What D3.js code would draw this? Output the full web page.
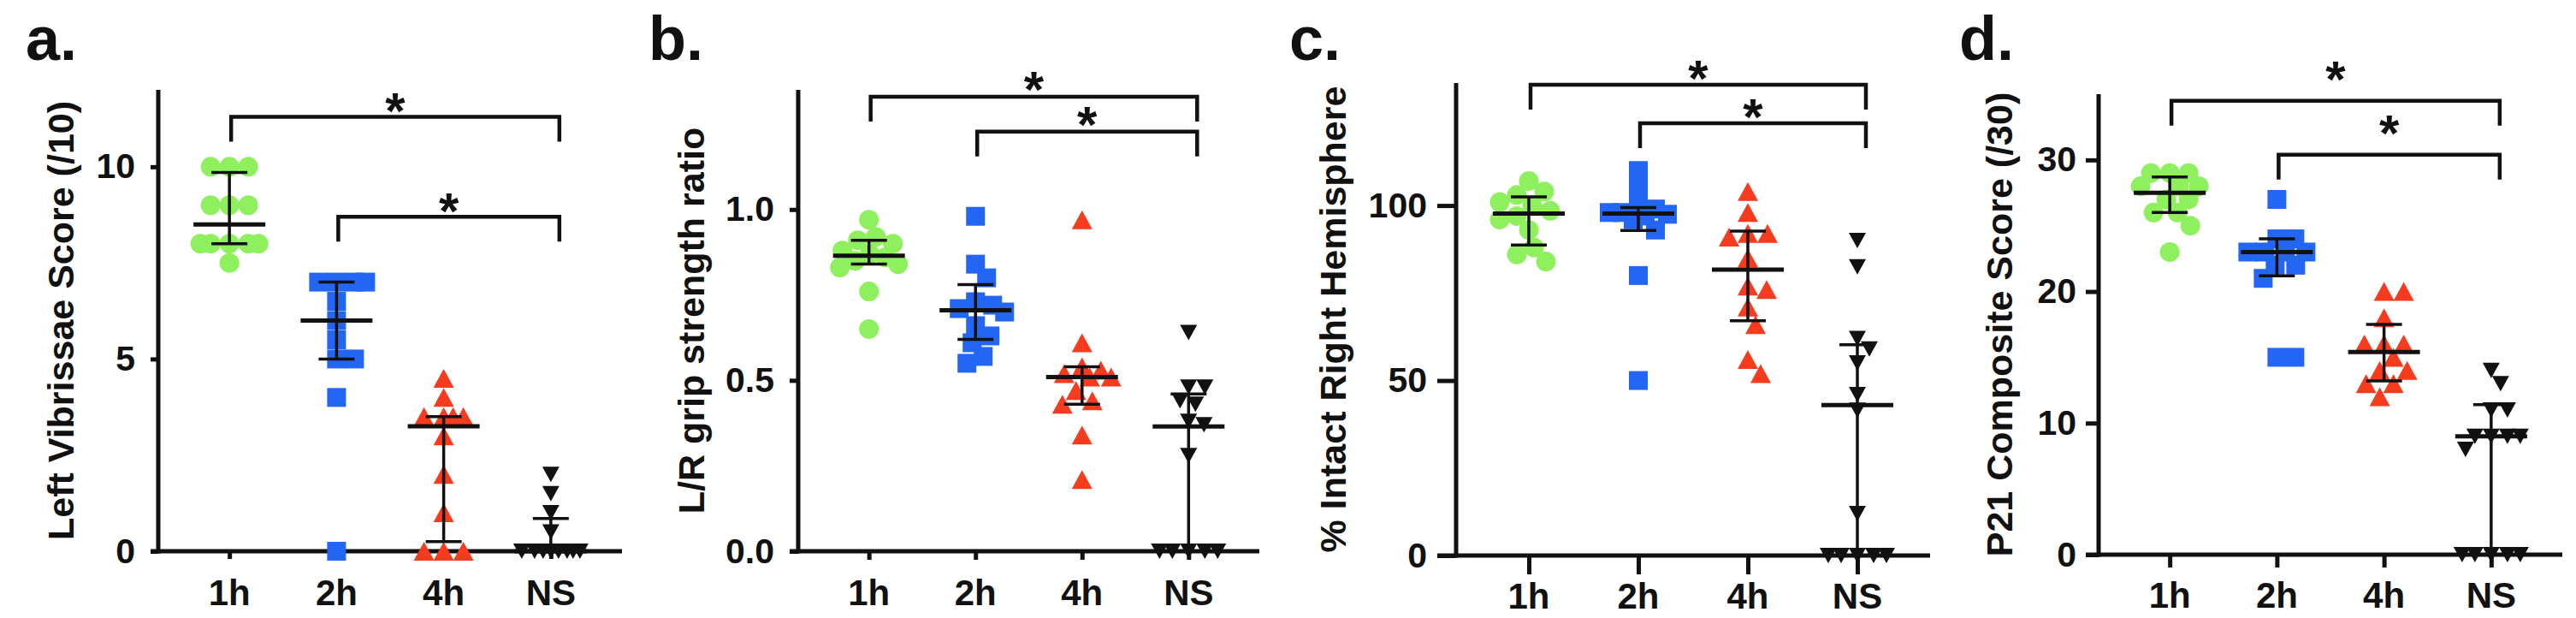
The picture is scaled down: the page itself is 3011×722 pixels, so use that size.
<!DOCTYPE html>
<html><head><meta charset="utf-8">
<script src="https://cdn.jsdelivr.net/npm/d3@7"></script>
<style>
html,body{margin:0;padding:0;background:#fff;}
svg{display:block;}
text{font-family:"Liberation Sans",Arial,Helvetica,sans-serif;font-weight:bold;fill:#111;}
</style>
</head><body>
<svg id="chart" width="3011" height="722"></svg>
<script>
// ---------- DATA ----------
const categories = ["1h", "2h", "4h", "NS"];

// Panel a: Left Vibrissae Score (/10)
const aValues1h = [10, 10, 10, 9, 9, 9, 8, 8, 8, 8, 8, 7.5];
const aValues2h = [7, 7, 7, 7, 6.5, 6, 5.5, 5, 5, 4, 0];
const aValues4h = [4.5, 4, 3.5, 3.5, 3.5, 3.5, 3, 2, 1, 0, 0, 0];
const aValuesNS = [2, 1.5, 1, 0.5, 0, 0, 0, 0, 0, 0, 0, 0];
const aMedian = [8.5, 6, 3.25, 0];
const aQ1 = [8, 5, 0.25, 0];
const aQ3 = [9.85, 7, 3.5, 0.85];
const aTicks = [0, 5, 10];
const aBrackets = [{from: "1h", to: "NS", y: 11.3}, {from: "2h", to: "NS", y: 8.7}];

// Panel b: L/R grip strength ratio
const bValues1h = [0.97, 0.92, 0.91, 0.90, 0.88, 0.87, 0.86, 0.85, 0.84, 0.83, 0.76, 0.65];
const bValues2h = [0.98, 0.84, 0.80, 0.73, 0.72, 0.71, 0.70, 0.66, 0.63, 0.61, 0.57, 0.55];
const bValues4h = [0.97, 0.61, 0.54, 0.53, 0.52, 0.51, 0.51, 0.47, 0.44, 0.43, 0.34, 0.21];
const bValuesNS = [0.64, 0.48, 0.48, 0.44, 0.43, 0.38, 0.37, 0.28, 0, 0, 0, 0, 0];
const bMedian = [0.865, 0.705, 0.51, 0.365];
const bQ1 = [0.84, 0.62, 0.43, 0];
const bQ3 = [0.91, 0.78, 0.54, 0.46];
const bTicks = [0, 0.5, 1.0];
const bBrackets = [{from: "1h", to: "NS", y: 1.33}, {from: "2h", to: "NS", y: 1.228}];

// Panel c: % Intact Right Hemisphere
const cValues1h = [107, 104, 103, 101, 100, 98.5, 97, 96, 93, 88, 86, 84];
const cValues2h = [110, 105, 99.8, 99, 98, 98, 97.5, 97, 96, 93, 80, 50];
const cValues4h = [104, 98, 92, 92, 91, 85, 77, 76, 71, 66, 56, 52];
const cValuesNS = [90, 82.5, 62, 59, 55, 46, 41.5, 12, 0, 0, 0, 0, 0];
const cMedian = [97.7, 97.7, 81.7, 43];
const cQ1 = [88.7, 92.9, 67.1, 0];
const cQ3 = [102.5, 99.4, 92.7, 60.2];
const cTicks = [0, 50, 100];
const cBrackets = [{from: "1h", to: "NS", y: 134.5}, {from: "2h", to: "NS", y: 123.5}];

// Panel d: P21 Composite Score (/30)
const dValues1h = [29, 29, 29, 28, 28, 28, 27, 27, 26, 26, 25, 23];
const dValues2h = [27, 24, 24, 23, 23, 23, 23, 22, 22, 21, 15, 15];
const dValues4h = [20, 20, 18, 16, 16, 16, 15, 14, 14, 13, 13, 12];
const dValuesNS = [14, 13, 11, 11, 9, 9, 9, 9, 8, 0, 0, 0, 0, 0];
const dMedian = [27.5, 23, 15.4, 9];
const dQ1 = [26, 21.2, 13.2, 0];
const dQ3 = [28.7, 24, 17.5, 11.4];
const dTicks = [0, 10, 20, 30];
const dBrackets = [{from: "1h", to: "NS", y: 34.5}, {from: "2h", to: "NS", y: 30.4}];

const panelLetters = ["a.", "b.", "c.", "d."];
const yTitles = ["Left Vibrissae Score (/10)", "L/R grip strength ratio", "% Intact Right Hemisphere", "P21 Composite Score (/30)"];
const yMax = [12, 1.35, 135, 35];

// ---------- LAYOUT / STYLE ----------
const layout = [
  {x0: 185,  x1: 727,  top: 105, base: 644, tick: 9,  gap: 18, titleX: 86,   letterX: 30,   xLabelY: 707, astOff: 14, fmt: d3.format("d")},
  {x0: 933,  x1: 1472, top: 105, base: 644, tick: 10, gap: 18, titleX: 823,  letterX: 758,  xLabelY: 707, astOff: 12, fmt: d3.format(".1f")},
  {x0: 1702, x1: 2256, top: 97,  base: 649, tick: 22, gap: 12, titleX: 1573, letterX: 1507, xLabelY: 711, astOff: 13, fmt: d3.format("d")},
  {x0: 2453, x1: 2995, top: 110, base: 648, tick: 15, gap: 11, titleX: 2352, letterX: 2290, xLabelY: 710, astOff: -5, fmt: d3.format("d")}
];
const colors = ["#8ff05e", "#2366f3", "#f63b1f", "#111111"];
const shapes = ["circle", "square", "triangle", "invtriangle"];
const markerW = [23, 22, 24, 20];
const markerH = [23, 22, 22, 18];

const panels = [
  {groups: [aValues1h, aValues2h, aValues4h, aValuesNS], med: aMedian, q1: aQ1, q3: aQ3, ticks: aTicks, brackets: aBrackets},
  {groups: [bValues1h, bValues2h, bValues4h, bValuesNS], med: bMedian, q1: bQ1, q3: bQ3, ticks: bTicks, brackets: bBrackets},
  {groups: [cValues1h, cValues2h, cValues4h, cValuesNS], med: cMedian, q1: cQ1, q3: cQ3, ticks: cTicks, brackets: cBrackets},
  {groups: [dValues1h, dValues2h, dValues4h, dValuesNS], med: dMedian, q1: dQ1, q3: dQ3, ticks: dTicks, brackets: dBrackets}
];

const svg = d3.select("#chart");
svg.append("rect").attr("width", 3011).attr("height", 722).attr("fill", "#fff");

// simple beeswarm placement
function swarm(values, y, diam, maxHalf) {
  const pts = values.map(v => ({v: v, y: y(v), dx: 0}));
  const order = pts.slice().sort((a, b) => b.v - a.v);
  const placed = [];
  const minD = diam * 0.92;
  for (const p of order) {
    let best = 0, bestScore = -1, ok = false;
    for (let k = 0; k <= maxHalf && !ok; k++) {
      const cands = k === 0 ? [0] : [k, -k];
      for (const s of cands) {
        let md = Infinity;
        for (const q of placed) {
          const d = Math.hypot(s - q.dx, p.y - q.y);
          if (d < md) md = d;
        }
        if (md >= minD) { best = s; ok = true; break; }
        if (md > bestScore) { bestScore = md; best = s; }
      }
    }
    p.dx = best;
    placed.push(p);
  }
  return pts;
}

function drawMarker(g, shape, cx, cy, w, h, color) {
  if (shape === "circle") {
    g.append("circle").attr("cx", cx).attr("cy", cy).attr("r", w / 2).attr("fill", color);
  } else if (shape === "square") {
    g.append("rect").attr("x", cx - w / 2).attr("y", cy - h / 2).attr("width", w).attr("height", h).attr("fill", color);
  } else if (shape === "triangle") {
    g.append("path").attr("d", `M${cx},${cy - h / 2}L${cx + w / 2},${cy + h / 2}L${cx - w / 2},${cy + h / 2}Z`).attr("fill", color);
  } else {
    g.append("path").attr("d", `M${cx - w / 2},${cy - h / 2}L${cx + w / 2},${cy - h / 2}L${cx},${cy + h / 2}Z`).attr("fill", color);
  }
}

panels.forEach((P, pi) => {
  const L = layout[pi];
  const x = d3.scalePoint().domain(categories).range([L.x0, L.x1]).padding(0.664);
  const y = d3.scaleLinear().domain([0, yMax[pi]]).range([L.base, L.top]);
  const g = svg.append("g");

  // panel letter
  g.append("text").attr("x", L.letterX).attr("y", 70).attr("font-size", 72).text(panelLetters[pi]);

  // y title
  g.append("text")
    .attr("transform", `translate(${L.titleX},${(L.top + L.base) / 2}) rotate(-90)`)
    .attr("text-anchor", "middle").attr("font-size", 43).text(yTitles[pi]);

  // y axis ticks + labels
  const yAxis = d3.axisLeft(y).tickValues(P.ticks).tickSize(L.tick).tickPadding(L.gap).tickFormat(L.fmt);
  const ya = g.append("g").attr("transform", `translate(${L.x0},0)`).call(yAxis);
  ya.select(".domain").remove();
  ya.selectAll(".tick line").attr("stroke", "#111").attr("stroke-width", 5);
  ya.selectAll(".tick text").attr("font-size", 41).attr("fill", "#111")
    .attr("font-family", "Liberation Sans, Arial, sans-serif").attr("font-weight", "bold");

  // x axis ticks
  const xAxis = d3.axisBottom(x).tickSize(L.tick).tickFormat("");
  const xa = g.append("g").attr("transform", `translate(0,${L.base})`).call(xAxis);
  xa.select(".domain").remove();
  xa.selectAll(".tick line").attr("stroke", "#111").attr("stroke-width", 5);
  // x labels
  categories.forEach(c => {
    g.append("text").attr("x", x(c)).attr("y", L.xLabelY).attr("text-anchor", "middle")
      .attr("font-size", 42).text(c);
  });

  // axis lines
  g.append("line").attr("x1", L.x0).attr("x2", L.x0).attr("y1", y.range()[1]).attr("y2", L.base + 2.5)
    .attr("stroke", "#111").attr("stroke-width", 5);
  g.append("line").attr("x1", L.x0 - L.tick).attr("x2", L.x1).attr("y1", L.base).attr("y2", L.base)
    .attr("stroke", "#111").attr("stroke-width", 5);

  // points
  P.groups.forEach((vals, gi) => {
    const cx = x(categories[gi]);
    const pts = swarm(vals, y, markerW[gi], 34);
    pts.forEach(p => drawMarker(g, shapes[gi], cx + p.dx, p.y, markerW[gi], markerH[gi], colors[gi]));
  });

  // median + IQR error bars
  categories.forEach((c, i) => {
    const cx = x(c);
    g.append("line").attr("x1", cx).attr("x2", cx).attr("y1", y(P.q1[i])).attr("y2", y(P.q3[i]))
      .attr("stroke", "#111").attr("stroke-width", 3.5);
    [P.q1[i], P.q3[i]].forEach(v => {
      g.append("line").attr("x1", cx - 21).attr("x2", cx + 21).attr("y1", y(v)).attr("y2", y(v))
        .attr("stroke", "#111").attr("stroke-width", 3.5);
    });
    g.append("line").attr("x1", cx - 42).attr("x2", cx + 42).attr("y1", y(P.med[i])).attr("y2", y(P.med[i]))
      .attr("stroke", "#111").attr("stroke-width", 5);
  });

  // significance brackets
  P.brackets.forEach(b => {
    const xa1 = x(b.from) + 2, xb1 = x(b.to) + 10, by = y(b.y);
    g.append("path").attr("d", `M${xa1},${by + 29}V${by}H${xb1}V${by + 29}`)
      .attr("fill", "none").attr("stroke", "#111").attr("stroke-width", 4.5);
    g.append("text").attr("x", (xa1 + xb1) / 2).attr("y", by + L.astOff).attr("text-anchor", "middle")
      .attr("font-size", 60).text("*");
  });
});
</script>
</body></html>
